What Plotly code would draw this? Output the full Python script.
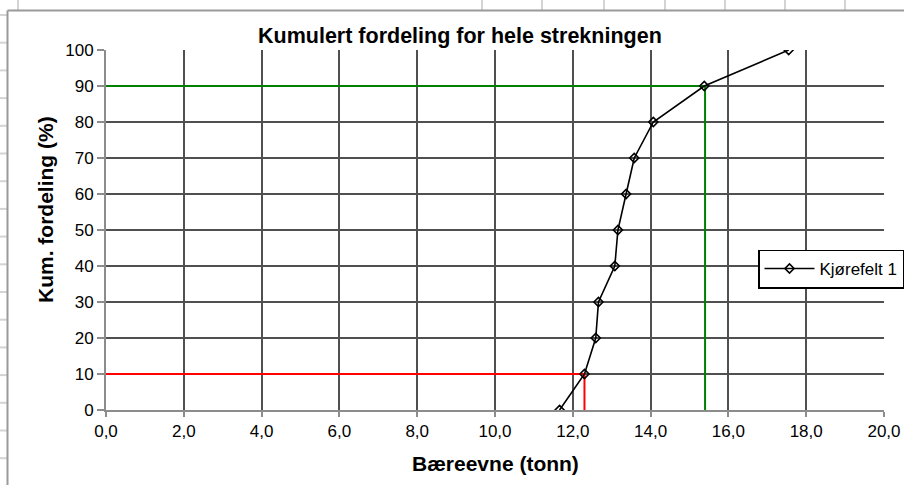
import plotly.graph_objects as go

# ---- data ----
cum_pct = [0, 10, 20, 30, 40, 50, 60, 70, 80, 90, 100]
baereevne = [11.66, 12.30, 12.59, 12.66, 13.08, 13.16, 13.37, 13.58, 14.07, 15.38, 17.55]
p10_x, p10_y = 12.3, 10
p90_x, p90_y = 15.4, 90
x_ticks = [0, 2, 4, 6, 8, 10, 12, 14, 16, 18, 20]
x_ticklabels = ["0,0", "2,0", "4,0", "6,0", "8,0", "10,0", "12,0", "14,0", "16,0", "18,0", "20,0"]
y_ticks = [0, 10, 20, 30, 40, 50, 60, 70, 80, 90, 100]

title_text = "Kumulert fordeling for hele strekningen"
x_title = "Bæreevne (tonn)"
y_title = "Kum. fordeling (%)"
series_name = "Kjørefelt 1"

# ---- layout geometry (pixels) ----
W, H = 904, 485
L, R, T, B = 106, 20, 50, 75
PW, PH = W - L - R, H - T - B

def ux(px):
    return (px - L) / PW

def vy(py):
    return (T + PH - py) / PH

FONT = "Liberation Sans, Arial, sans-serif"

fig = go.Figure()

# reference lines (10% and 90%)
fig.add_trace(go.Scatter(x=[0, p10_x, p10_x], y=[p10_y, p10_y, 0], mode="lines",
                         line=dict(color="#ff0000", width=2), showlegend=False, hoverinfo="skip"))
fig.add_trace(go.Scatter(x=[0, p90_x, p90_x], y=[p90_y, p90_y, 0], mode="lines",
                         line=dict(color="#008000", width=2), showlegend=False, hoverinfo="skip"))

# main series
fig.add_trace(go.Scatter(x=baereevne, y=cum_pct, mode="lines+markers", name=series_name,
                         line=dict(color="#000000", width=1.6),
                         marker=dict(symbol="diamond-open", size=7, color="#000000",
                                     line=dict(color="#000000", width=1.6))))

shapes = []
# spreadsheet cell lines outside the chart
grid_col = "#d4d4d4"
for px in [18, 482, 542, 604, 665, 725, 785, 845]:
    shapes.append(dict(type="line", xref="paper", yref="paper", x0=ux(px), x1=ux(px),
                       y0=vy(0), y1=vy(10), line=dict(color=grid_col, width=2)))
for py in [15, 42.7, 70.4, 98.1, 125.8, 153.5, 181.2, 208.9, 236.6, 264.3, 292,
           319.7, 347.4, 375.1, 402.8, 430.5, 458.2]:
    shapes.append(dict(type="line", xref="paper", yref="paper", x0=ux(0), x1=ux(7),
                       y0=vy(py), y1=vy(py), line=dict(color=grid_col, width=2)))
# chart border
shapes.append(dict(type="line", xref="paper", yref="paper", x0=ux(7.5), x1=ux(7.5),
                   y0=vy(10.5), y1=vy(490), line=dict(color="#9a9a9a", width=2)))
shapes.append(dict(type="line", xref="paper", yref="paper", x0=ux(7.5), x1=ux(910),
                   y0=vy(10.5), y1=vy(10.5), line=dict(color="#9a9a9a", width=2)))

annotations = [
    dict(text="<b>" + title_text + "</b>", xref="paper", yref="paper", x=ux(460), y=vy(36),
         xanchor="center", yanchor="middle", showarrow=False,
         font=dict(family=FONT, size=21.5, color="#000000")),
    dict(text="<b>" + x_title + "</b>", xref="paper", yref="paper", x=ux(495), y=vy(464),
         xanchor="center", yanchor="middle", showarrow=False,
         font=dict(family=FONT, size=21, color="#000000")),
    dict(text="<b>" + y_title + "</b>", xref="paper", yref="paper", x=ux(45), y=vy(210),
         xanchor="center", yanchor="middle", showarrow=False, textangle=-90,
         font=dict(family=FONT, size=21, color="#000000")),
]

fig.update_layout(
    width=W, height=H,
    margin=dict(l=L, r=R, t=T, b=B, pad=0, autoexpand=False),
    paper_bgcolor="#ffffff", plot_bgcolor="#ffffff",
    font=dict(family=FONT, size=17, color="#000000"),
    shapes=shapes, annotations=annotations,
    showlegend=True,
    legend=dict(x=ux(758), y=vy(269), xanchor="left", yanchor="middle",
                bgcolor="#ffffff", bordercolor="#000000", borderwidth=1.5,
                font=dict(family=FONT, size=17, color="#000000"),
                itemwidth=50, tracegroupgap=0),
)
fig.update_xaxes(range=[0, 20], tickvals=x_ticks, ticktext=x_ticklabels,
                 showgrid=True, gridcolor="#505050", gridwidth=2,
                 showline=True, linecolor="#8c8c8c", linewidth=2, zeroline=False,
                 ticks="outside", ticklen=5, tickcolor="#8c8c8c", tickwidth=2,
                 tickfont=dict(family=FONT, size=17), fixedrange=True, automargin=False)
fig.update_yaxes(range=[0, 100], tickvals=y_ticks,
                 showgrid=True, gridcolor="#505050", gridwidth=2,
                 showline=True, linecolor="#8c8c8c", linewidth=2, zeroline=False,
                 ticks="outside", ticklen=7, tickcolor="#8c8c8c", tickwidth=2,
                 tickfont=dict(family=FONT, size=17), fixedrange=True, automargin=False)

fig.write_html("out.html", config={"displayModeBar": False},
               post_script="document.body.style.margin='0';document.body.style.overflow='hidden';")
